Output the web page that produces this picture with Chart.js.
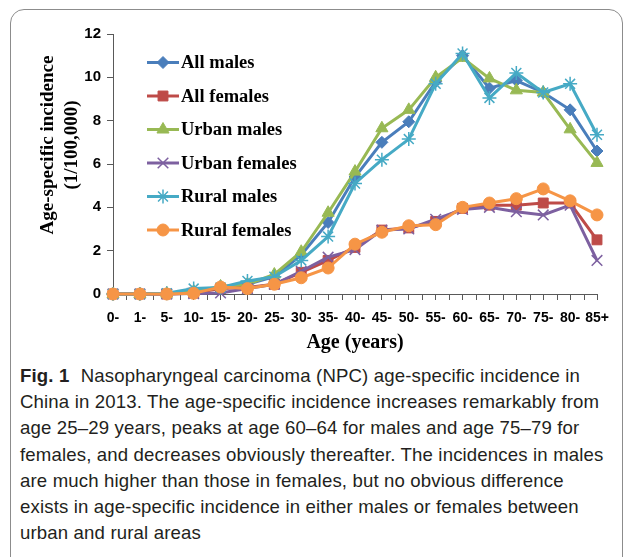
<!DOCTYPE html>
<html>
<head>
<meta charset="utf-8">
<script src="https://cdn.jsdelivr.net/npm/chart.js@4.4.1/dist/chart.umd.min.js"></script>
<style>
  body { margin: 0; background: #fff; }
  #page { position: relative; width: 627px; height: 557px; overflow: hidden; }
  #frame { position: absolute; left: 10px; top: 9px; width: 611px; height: 600px;
           border: 1.5px solid #8c8c8c; border-radius: 14px; }
  #wrap { position: absolute; left: 0; top: 0; width: 627px; height: 360px; }
  #caption { position: absolute; left: 20px; top: 363px; color: #231f20;
             font-family: "Liberation Sans", Arial, sans-serif; font-size: 18.6px;
             line-height: 26.2px; white-space: nowrap; letter-spacing: 0.15px; }
  #caption b { margin-right: 6px; }
</style>
</head>
<body>
<div id="page">
  <div id="frame"></div>
  <div id="wrap"><canvas id="myChart" width="627" height="360"></canvas></div>
  <div id="caption">
    <b>Fig. 1</b> Nasopharyngeal carcinoma (NPC) age-specific incidence in<br>
    China in 2013. The age-specific incidence increases remarkably from<br>
    age 25–29 years, peaks at age 60–64 for males and age 75–79 for<br>
    females, and decreases obviously thereafter. The incidences in males<br>
    are much higher than those in females, but no obvious difference<br>
    exists in age-specific incidence in either males or females between<br>
    urban and rural areas
  </div>
</div>
<script>
// age groups (x axis)
const ageGroups = ['0-', '1-', '5-', '10-', '15-', '20-', '25-', '30-', '35-', '40-',
  '45-', '50-', '55-', '60-', '65-', '70-', '75-', '80-', '85+'];

// incidence per 100,000
const allMales     = [0, 0, 0.02, 0.12, 0.3, 0.45, 0.8, 1.8, 3.3, 5.4, 7.0, 7.95, 9.8, 11.0, 9.5, 9.85, 9.3, 8.5, 6.6];
const allFemales   = [0, 0, 0, 0.05, 0.25, 0.3, 0.45, 1.0, 1.55, 2.15, 2.95, 3.05, 3.35, 3.95, 4.1, 4.1, 4.2, 4.2, 2.5];
const urbanMales   = [0, 0, 0.02, 0.12, 0.35, 0.45, 0.9, 1.95, 3.75, 5.65, 7.65, 8.5, 10.0, 10.9, 9.95, 9.4, 9.3, 7.6, 6.05];
const urbanFemales = [0, 0, 0, 0.02, 0.05, 0.25, 0.45, 1.05, 1.7, 2.05, 2.95, 3.0, 3.45, 3.9, 4.0, 3.8, 3.65, 4.1, 1.55];
const ruralMales   = [0, 0, 0.03, 0.25, 0.3, 0.6, 0.8, 1.55, 2.65, 5.1, 6.2, 7.15, 9.7, 11.1, 9.05, 10.2, 9.3, 9.7, 7.35];
const ruralFemales = [0, 0, 0, 0.03, 0.32, 0.25, 0.45, 0.75, 1.2, 2.3, 2.85, 3.15, 3.2, 4.0, 4.2, 4.4, 4.85, 4.3, 3.65];

const seriesNames = ['All males', 'All females', 'Urban males', 'Urban females', 'Rural males', 'Rural females'];
const seriesValues = [allMales, allFemales, urbanMales, urbanFemales, ruralMales, ruralFemales];

// y axis ticks
const yMin = 0, yMax = 12, yStep = 2;

// look
const colors  = ['#4a7ebb', '#be4b48', '#98b954', '#7d60a0', '#46aac5', '#f69546'];
const markers = ['rectRot', 'rect', 'triangle', 'crossRot', 'star', 'circle'];
const markerRadius = [6, 7, 7, 7.5, 7, 6];
const axisColor = '#595959';
const serif = '"Liberation Serif", "Times New Roman", serif';
const sans = '"Liberation Sans", Arial, sans-serif';

// extra tick marks half way between the age groups (excel style)
const midTicks = {
  id: 'midTicks',
  beforeDatasetsDraw(chart) {
    const xs = chart.scales.x, ctx = chart.ctx, y0 = chart.chartArea.bottom;
    ctx.save();
    ctx.strokeStyle = axisColor;
    ctx.lineWidth = 1;
    for (let i = 0; i < ageGroups.length - 1; i++) {
      const px = Math.round((xs.getPixelForValue(i) + xs.getPixelForValue(i + 1)) / 2) + 0.5;
      ctx.beginPath();
      ctx.moveTo(px, y0);
      ctx.lineTo(px, y0 + 6);
      ctx.stroke();
    }
    ctx.restore();
  }
};

// legend sits inside the plot, top left
const inlineLegend = {
  id: 'inlineLegend',
  afterDraw(chart) {
    const {ctx, chartArea} = chart;
    const x0 = chartArea.left + 34, y0 = chartArea.top + 28.5, step = 33.5;
    chart.data.datasets.forEach((ds, i) => {
      const y = y0 + i * step;
      ctx.save();
      ctx.strokeStyle = ds.borderColor;
      ctx.lineWidth = 3;
      ctx.beginPath();
      ctx.moveTo(x0, y);
      ctx.lineTo(x0 + 32, y);
      ctx.stroke();
      ctx.fillStyle = ds.pointBackgroundColor;
      ctx.strokeStyle = ds.pointBorderColor;
      ctx.lineWidth = ds.pointBorderWidth;
      Chart.helpers.drawPoint(ctx, {
        pointStyle: ds.pointStyle, radius: ds.pointRadius,
        rotation: 0, borderWidth: ds.pointBorderWidth
      }, x0 + 16, y);
      ctx.fillStyle = '#000';
      ctx.font = 'bold 18.5px ' + serif;
      ctx.textAlign = 'left';
      ctx.textBaseline = 'middle';
      ctx.fillText(ds.label, x0 + 34, y + 1);
      ctx.restore();
    });
  }
};

const datasets = seriesNames.map((name, i) => ({
  label: name,
  data: seriesValues[i],
  borderColor: colors[i],
  backgroundColor: colors[i],
  pointBackgroundColor: colors[i],
  pointBorderColor: colors[i],
  pointBorderWidth: markers[i] === 'crossRot' || markers[i] === 'star' ? 1.5 : 1,
  pointStyle: markers[i],
  pointRadius: markerRadius[i],
  borderWidth: 3,
  tension: 0,
  clip: false,
  order: seriesNames.length - i
}));

// leading spaces nudge the rotated title upwards like in the figure
const pad = '        ';

new Chart(document.getElementById('myChart'), {
  type: 'line',
  data: { labels: ageGroups, datasets: datasets },
  plugins: [midTicks, inlineLegend],
  options: {
    responsive: false,
    animation: false,
    layout: { padding: { top: 34, left: 10, right: 30, bottom: 5 } },
    plugins: { legend: { display: false }, tooltip: { enabled: false } },
    scales: {
      x: {
        offset: false,
        afterFit: (s) => { s.height = 61; },
        border: { color: axisColor, width: 1 },
        grid: { drawOnChartArea: false, tickLength: 6, color: axisColor },
        ticks: { autoSkip: false, maxRotation: 0, padding: 10, color: '#000',
                 font: { family: sans, size: 14, weight: 'bold' } },
        title: { display: true, text: 'Age (years)', color: '#000',
                 font: { family: serif, size: 20, weight: 'bold', lineHeight: 1.2 },
                 padding: { top: 0, bottom: 0 } }
      },
      y: {
        min: yMin, max: yMax,
        afterFit: (s) => { s.width = 103; },
        border: { color: axisColor, width: 1 },
        grid: { drawOnChartArea: false, tickLength: 6, color: axisColor },
        ticks: { stepSize: yStep, padding: 6, color: '#000',
                 font: { family: sans, size: 15, weight: 'bold' } },
        title: { display: true, text: [pad + 'Age-specific incidence', pad + '(1/100,000)'], color: '#000',
                 font: { family: serif, size: 19, weight: 'bold', lineHeight: 1.25 },
                 padding: { top: 26, bottom: 0 } }
      }
    }
  }
});
</script>
</body>
</html>
